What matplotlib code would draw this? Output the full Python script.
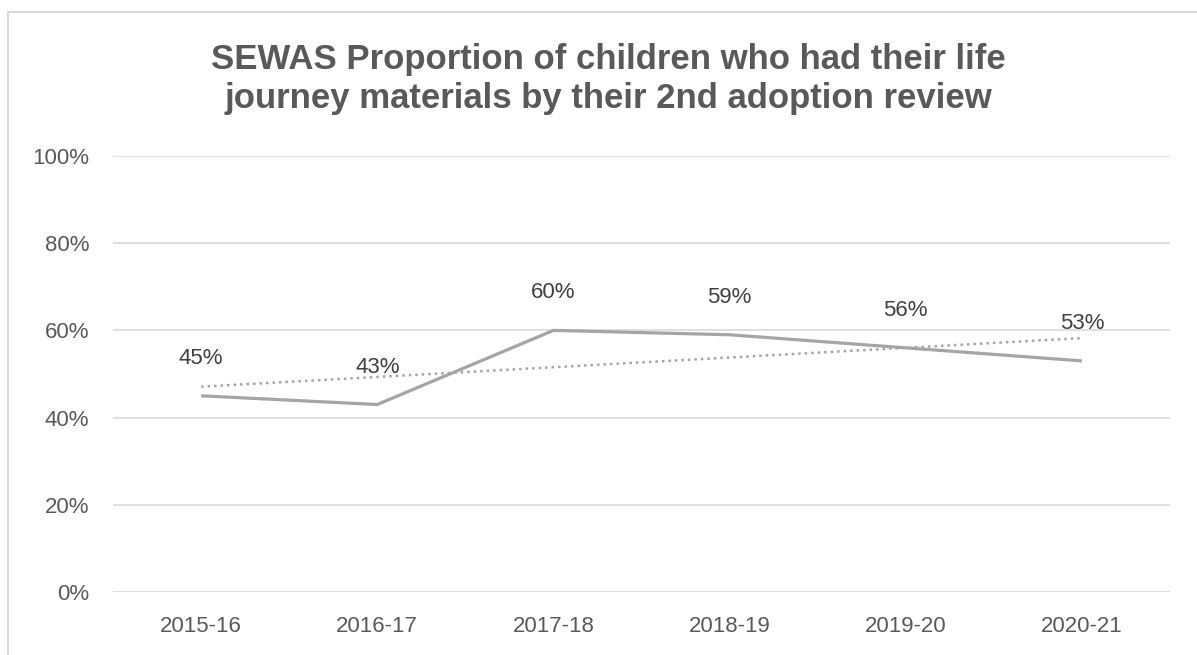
import numpy as np
import matplotlib
matplotlib.use("Agg")
import matplotlib.pyplot as plt
from matplotlib.patches import Rectangle

years = ["2015-16", "2016-17", "2017-18", "2018-19", "2019-20", "2020-21"]
proportion = [45, 43, 60, 59, 56, 53]
y_ticks = [0, 20, 40, 60, 80, 100]

TEXT = "#595959"
LINE = "#a5a5a5"

plt.rcParams["font.family"] = ["Liberation Sans", "DejaVu Sans"]

fig = plt.figure(figsize=(11.97, 6.55), dpi=100)
fig.patches.append(Rectangle((8 / 1197, -0.1), 1.2, 1.1 - 12 / 655,
                             transform=fig.transFigure, fill=False,
                             edgecolor="#d9d9d9", linewidth=1.5))
ax = fig.add_axes([113 / 1197, 63 / 655, 1057 / 1197, 436 / 655])

x = np.arange(len(years))
ax.plot(x, proportion, color=LINE, linewidth=2.3, solid_capstyle="butt", zorder=3)

# linear trendline like the Excel one
slope, intercept = np.polyfit(x, proportion, 1)
ax.plot(x, slope * x + intercept, color=LINE, linewidth=1.8,
        linestyle=(0, (1, 1.6)), zorder=2)

for xi, v in zip(x, proportion):
    ax.annotate(f"{v}%", (xi, v), xytext=(0, 27), textcoords="offset points",
                ha="center", va="center", fontsize=16, color="#404040")

ax.set_xlim(-0.5, len(years) - 0.5)
ax.set_ylim(0, 100)
ax.set_yticks(y_ticks)
ax.set_yticklabels([f"{t}%" for t in y_ticks])
ax.set_xticks(x)
ax.set_xticklabels(years)
ax.tick_params(length=0, labelsize=16, labelcolor=TEXT)
ax.tick_params(axis="x", pad=17)
ax.tick_params(axis="y", pad=17)
ax.grid(axis="y", color="#d9d9d9", linewidth=1.2)
ax.set_axisbelow(True)
for s in ax.spines.values():
    s.set_visible(False)

fig.text(608 / 1197, 1 - 79 / 655,
         "SEWAS Proportion of children who had their life\njourney materials by their 2nd adoption review",
         ha="center", va="center", fontsize=25, fontweight="bold", color=TEXT,
         linespacing=1.2)

fig.savefig("out.png", dpi=100)
